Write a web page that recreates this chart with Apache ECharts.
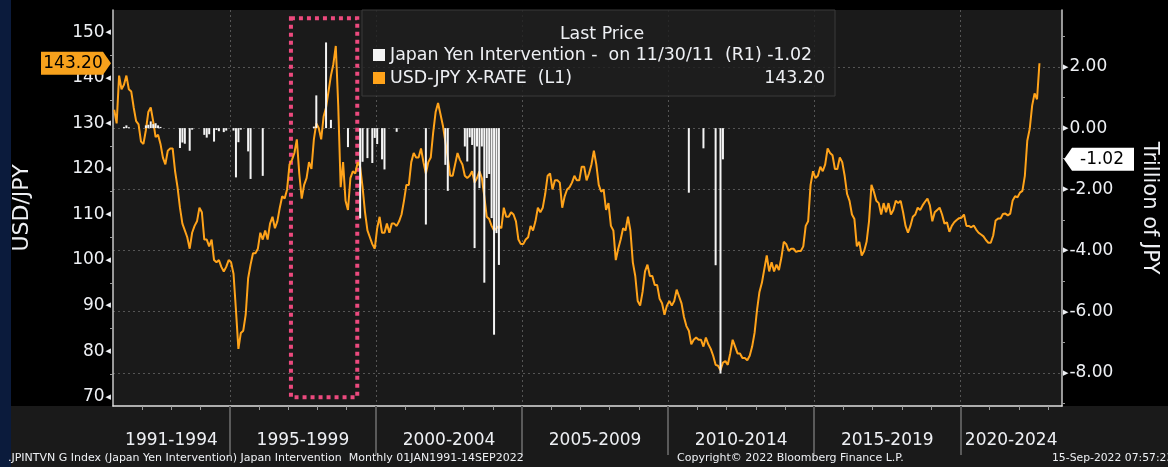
<!DOCTYPE html>
<html><head><meta charset="utf-8">
<script src="https://cdn.jsdelivr.net/npm/echarts@6/dist/echarts.min.js"></script>
<style>
html,body{margin:0;padding:0;background:#000;width:1168px;height:467px;overflow:hidden}
#navy{position:absolute;left:0;top:0;width:11px;height:467px;background:#0b1b3c}
#foot{position:absolute;left:11px;top:406px;width:1157px;height:61px;background:#1a1a1a}
#chart{position:absolute;left:0;top:0;width:1168px;height:467px}
</style></head><body>
<div id="navy"></div><div id="foot"></div><div id="chart"></div>
<script>
// ---------------- data ----------------
const usdJpyStart = [1991, 1];            // first month of the monthly series
const usdJpyMonthly = [
  133.0,130.0,140.5,137.5,138.5,140.5,137.5,137.0,133.5,130.5,129.8,126.0, // 1991
  125.5,128.5,132.5,133.5,130.5,127.0,127.5,125.5,122.5,121.0,124.0,124.5, // 1992
  124.5,119.5,116.0,111.5,108.0,106.5,105.0,102.5,106.0,107.5,108.5,111.5, // 1993
  110.5,104.5,104.5,103.0,104.5,100.0, 99.5,100.0, 98.5, 97.5, 98.5,100.0, // 1994
   99.5, 97.0, 89.0, 80.5, 84.0, 84.5, 88.0, 96.0, 99.0,101.5,101.5,102.5, // 1995
  106.0,104.5,106.5,104.5,108.0,109.5,107.0,108.5,111.5,114.0,113.5,115.5, // 1996
  121.0,122.0,123.5,126.5,119.0,113.5,116.5,118.0,121.5,120.0,126.5,130.0, // 1997
  129.0,126.5,131.5,133.5,137.0,140.5,143.0,147.0,134.0,116.0,121.5,113.0, // 1998
  111.0,118.0,119.5,119.0,121.5,120.5,116.0,110.5,106.5,105.0,103.5,102.5, // 1999
  107.0,109.5,106.0,106.0,108.0,106.0,108.0,108.0,107.5,108.5,110.0,113.0, // 2000
  116.5,116.5,121.5,123.5,122.5,122.5,124.5,121.5,119.0,121.5,122.5,128.0, // 2001
  132.5,134.5,132.0,129.5,126.0,122.5,118.5,118.5,121.0,123.5,122.0,121.0, // 2002
  118.5,118.0,118.5,119.5,117.0,118.0,119.5,118.0,114.0,109.5,109.0,107.5, // 2003
  106.5,107.0,107.5,107.0,111.5,109.5,109.5,110.5,110.0,108.5,104.5,103.5, // 2004
  103.5,104.5,105.0,107.5,106.5,108.5,111.5,110.5,111.5,114.5,118.5,119.0, // 2005
  115.5,117.5,117.5,117.0,111.5,114.0,115.5,116.0,117.0,118.5,117.5,117.5, // 2006
  120.5,120.5,117.5,119.0,121.0,124.0,121.0,116.5,115.0,115.5,111.0,112.5, // 2007
  107.5,106.5,100.0,102.5,104.5,107.0,106.5,109.5,106.5, 99.5, 96.5, 91.0, // 2008
   90.0, 93.0, 97.5, 99.0, 96.5, 96.5, 94.5, 94.5, 91.5, 90.5, 88.0, 90.0, // 2009
   91.0, 90.0, 91.0, 93.5, 92.0, 90.5, 87.5, 85.5, 84.5, 81.5, 82.5, 83.0, // 2010
   82.5, 82.5, 81.0, 83.0, 81.5, 80.5, 79.0, 77.0, 76.8, 75.8, 77.5, 77.8, // 2011
   77.0, 79.5, 82.5, 81.0, 79.5, 79.5, 78.5, 78.5, 78.0, 79.0, 81.0, 84.0, // 2012
   89.0, 93.0, 95.0, 98.0,101.0, 97.5, 99.5, 97.5, 99.0, 97.8,100.5,104.0, // 2013
  103.5,102.0,102.5,102.5,101.8,102.0,102.0,103.0,107.5,108.5,116.5,119.5, // 2014
  118.0,118.5,120.5,119.5,121.0,124.5,123.5,123.0,120.0,120.0,122.5,121.5, // 2015
  118.5,114.5,113.0,110.0,109.0,103.0,104.0,101.0,102.0,104.0,108.5,116.5, // 2016
  115.0,113.0,112.5,110.0,112.5,110.5,112.5,110.0,111.0,113.0,112.5,113.0, // 2017
  110.5,107.5,106.0,107.5,109.5,110.0,111.5,111.0,112.0,112.8,113.5,112.0, // 2018
  108.5,110.5,111.0,111.5,110.0,108.0,108.3,106.2,107.5,108.3,108.8,109.2, // 2019
  109.3,110.0,107.5,107.5,107.2,107.6,106.7,106.0,105.6,105.2,104.4,103.8, // 2020
  103.8,105.4,108.7,109.1,109.1,110.1,110.2,109.8,110.2,113.1,114.0,113.8, // 2021
  114.8,115.2,118.5,126.2,128.8,133.9,136.6,135.3,143.2                    // 2022
];
const interventionMonths = [
  '1991-05','1991-06','1991-07',
  '1992-02','1992-03','1992-04','1992-05','1992-06','1992-07','1992-08',
  '1993-04','1993-05','1993-06','1993-08','1993-09',
  '1994-02','1994-03','1994-04','1994-06','1994-07','1994-08','1994-10','1994-11',
  '1995-02','1995-03','1995-04','1995-05','1995-08','1995-09',
  '1996-02',
  '1997-11','1997-12','1998-04','1998-06',
  '1999-01','1999-06','1999-07','1999-09','1999-11','1999-12',
  '2000-01','2000-03','2000-04','2000-09',
  '2001-09','2002-05','2002-06',
  '2003-01','2003-02','2003-03','2003-04','2003-05','2003-06','2003-07','2003-08',
  '2003-09','2003-10','2003-11','2003-12','2004-01','2004-02','2004-03',
  '2010-09','2011-03','2011-08','2011-10','2011-11'
];
const interventionValues = [
  0.04, 0.09, 0.03,
  0.09, 0.11, 0.22, 0.13, 0.16, 0.09, 0.04,
  -0.65, -0.47, -0.51, -0.74, -0.05,
  -0.22, -0.31, -0.20, -0.44, -0.06, -0.10, -0.13, -0.08,
  -0.08, -1.61, -0.46, -0.05, -0.76, -1.66,
  -1.56,
  0.05, 1.07, 2.80, 0.27,
  -0.62, -2.95, -1.10, -0.98, -1.14, -0.32,
  -0.52, -1.02, -1.35, -0.12,
  -3.15, -1.20, -2.05,
  -0.60, -1.09, -0.30, -0.55, -3.92, -0.60, -1.96, -0.60,
  -5.05, -1.63, -1.50, -2.94, -6.75, -3.43, -4.47,
  -2.11, -0.66, -4.48, -8.02, -1.02
];
const periodLabels = ['1991-1994','1995-1999','2000-2004','2005-2009','2010-2014','2015-2019','2020-2024'];
const periodStarts = [1991, 1995, 2000, 2005, 2010, 2015, 2020];
const periodEnds   = [1995, 2000, 2005, 2010, 2015, 2020, 2025];
const usdTickLabels = [70, 80, 90, 100, 110, 120, 130, 140, 150];
const usdMinorTicks = [75, 85, 95, 105, 115, 125, 135, 145];
const jpyTickLabels = [-8, -6, -4, -2, 0, 2];
const jpyMinorTicks = [-9, -7, -5, -3, -1, 1, 3];
const seriesNames = ['Japan Yen Intervention', 'USD-JPY X-RATE'];
const legendTexts = ['Japan Yen Intervention -  on 11/30/11  (R1) -1.02', 'USD-JPY X-RATE  (L1)'];
const legendTitle = 'Last Price';
const axisNames = ['USD/JPY', 'Trillion of JPY'];
const footerTexts = ['.JPINTVN G Index (Japan Yen Intervention) Japan Intervention  Monthly 01JAN1991-14SEP2022',
                     'Copyright\u00A9 2022 Bloomberg Finance L.P.', '15-Sep-2022 07:57:23'];
const highlightBox = { from: 1997.09, to: 1999.36, top: 153.1, bottom: 69.9 };
const X_MIN = 1991, X_MAX = 2023.48;
const USD_MIN = 67.96, USD_MAX = 154.9;
const JPY_MIN = -9.08, JPY_MAX = 3.86;

// ---------------- build ----------------
const FONT = 'DejaVu Sans';
const TXT = '#eef0f4';
function monthPos(y, m) { return y + (m - 0.5) / 12; }
const usdData = usdJpyMonthly.map((v, i) => {
  const k = usdJpyStart[1] - 1 + i;
  return [monthPos(usdJpyStart[0] + Math.floor(k / 12), (k % 12) + 1), v];
});
const intData = interventionMonths.map((s, i) => {
  const p = s.split('-');
  return [monthPos(+p[0], +p[1]), interventionValues[i]];
});
const periodCenters = periodStarts.map((s, i) => (s + Math.min(periodEnds[i], X_MAX)) / 2);
const yearTicks = [];
for (let y = X_MIN + 1; y <= X_MAX; y++) yearTicks.push(y);
const lastUsd = usdJpyMonthly[usdJpyMonthly.length - 1];
const lastInt = interventionValues[interventionValues.length - 1];

const chart = echarts.init(document.getElementById('chart'), null, { renderer: 'canvas' });
chart.setOption({
  backgroundColor: 'transparent',
  animation: false,
  textStyle: { fontFamily: FONT },
  title: [
    { text: legendTitle, left: 597, top: 21, textAlign: 'center', z: 10,
      textStyle: { color: TXT, fontSize: 17.4, fontWeight: 'normal', fontFamily: FONT } },
    { text: footerTexts[0], left: 8, top: 453, padding: 0,
      textStyle: { color: TXT, fontSize: 11, fontWeight: 'normal', fontFamily: FONT } },
    { text: footerTexts[1], left: 677, top: 453, padding: 0,
      textStyle: { color: TXT, fontSize: 11, fontWeight: 'normal', fontFamily: FONT } },
    { text: footerTexts[2], left: 1052, top: 453, padding: 0,
      textStyle: { color: TXT, fontSize: 10.8, fontWeight: 'normal', fontFamily: FONT } }
  ],
  legend: {
    orient: 'vertical', left: 362, top: 10,
    padding: [35, 10, 8, 11], itemGap: 3, itemWidth: 12, itemHeight: 12,
    backgroundColor: 'rgba(30,30,30,0.82)', borderColor: '#3a3a3a', borderWidth: 1,
    data: [{ name: seriesNames[0], icon: 'rect' }, { name: seriesNames[1], icon: 'rect' }],
    selectedMode: false,
    textStyle: { color: TXT, fontSize: 17.4, fontFamily: FONT, lineHeight: 20,
      rich: { n: { width: 370, fontSize: 17.4, color: TXT, fontFamily: FONT },
              v: { width: 65, align: 'right', fontSize: 17.4, color: TXT, fontFamily: FONT } } },
    formatter: function (name) {
      if (name === seriesNames[0]) return legendTexts[0];
      return '{n|' + legendTexts[1] + '}{v|' + lastUsd.toFixed(2) + '}';
    }
  },
  grid: { left: 113, right: 95, top: 10, bottom: 61, show: true,
          backgroundColor: '#1a1a1a', borderWidth: 0 },
  xAxis: [
    { type: 'value', min: X_MIN, max: X_MAX, position: 'bottom',
      axisLine: { show: true, onZero: false, lineStyle: { color: '#e0e0e0', width: 1.5 } },
      axisTick: { show: true, customValues: yearTicks, length: 4, lineStyle: { color: '#9a9a9a' } },
      axisLabel: { show: true, customValues: periodCenters, margin: 26, color: TXT, fontSize: 17, fontFamily: FONT,
        formatter: function (v) {
          let best = 0;
          periodCenters.forEach((c, i) => { if (Math.abs(c - v) < Math.abs(periodCenters[best] - v)) best = i; });
          return periodLabels[best];
        } },
      splitLine: { show: false } },
    { type: 'value', min: X_MIN, max: X_MAX, position: 'bottom',
      axisLine: { show: false, onZero: false },
      axisTick: { show: true, customValues: periodStarts.slice(1), length: 49, lineStyle: { color: '#5a5a5a', width: 2 } },
      axisLabel: { show: false },
      splitLine: { show: true, lineStyle: { color: '#555', type: [2, 3], width: 1 } } }
  ],
  yAxis: [
    { type: 'value', min: USD_MIN, max: USD_MAX, position: 'left',
      name: axisNames[0], nameLocation: 'middle', nameGap: 80, nameRotate: 90,
      nameTextStyle: { color: TXT, fontSize: 22, fontFamily: FONT },
      axisLine: { show: true, onZero: false, lineStyle: { color: '#c8c8c8', width: 1.5 } },
      axisTick: { show: true, customValues: usdMinorTicks, length: 3, lineStyle: { color: '#9a9a9a' } },
      axisLabel: { show: true, customValues: usdTickLabels, margin: 2,
        formatter: v => '{a|' + v + '}{t|\u25C0}',
        rich: { a: { color: TXT, fontSize: 17, fontFamily: FONT },
                t: { color: TXT, fontSize: 7, fontFamily: FONT, padding: [0, 0, 0, 1] } } },
      splitLine: { show: false } },
    { type: 'value', min: JPY_MIN, max: JPY_MAX, position: 'right',
      name: axisNames[1], nameLocation: 'middle', nameGap: 77, nameRotate: -90,
      nameTextStyle: { color: TXT, fontSize: 21, fontFamily: FONT },
      axisLine: { show: true, onZero: false, lineStyle: { color: '#c8c8c8', width: 1.5 } },
      axisTick: { show: true, customValues: jpyTickLabels, length: 2, lineStyle: { color: '#9a9a9a' } },
      axisLabel: { show: true, customValues: jpyTickLabels, margin: 1,
        formatter: v => '{t|\u25B6}{a|' + v.toFixed(2) + '}',
        rich: { a: { color: TXT, fontSize: 17, fontFamily: FONT },
                t: { color: TXT, fontSize: 7, fontFamily: FONT, padding: [0, 1, 0, 0] } } },
      splitLine: { show: true, lineStyle: { color: '#555', type: [2, 3], width: 1 } } },
    { type: 'value', min: JPY_MIN, max: JPY_MAX, position: 'right',
      axisLine: { show: false, onZero: false },
      axisTick: { show: true, customValues: jpyMinorTicks, length: 3, lineStyle: { color: '#9a9a9a' } },
      axisLabel: { show: false }, splitLine: { show: false } }
  ],
  series: [
    { name: seriesNames[1], type: 'line', xAxisIndex: 0, yAxisIndex: 0,
      data: usdData, showSymbol: false, symbol: 'none', sampling: null, clip: false,
      color: '#ffa31a', lineStyle: { color: '#ffa31a', width: 2 }, z: 2,
      markArea: { silent: true, label: { show: false },
        itemStyle: { color: 'rgba(0,0,0,0)', borderColor: '#ec4a7e', borderWidth: 4, borderType: [4, 4] },
        data: [[{ coord: [highlightBox.from, highlightBox.top] }, { coord: [highlightBox.to, highlightBox.bottom] }]] },
      markPoint: { silent: true, symbol: 'path://M0,0H62L70,11.5L62,23H0Z', symbolSize: [70, 23],
        symbolKeepAspect: false, symbolOffset: [-37, 0],
        itemStyle: { color: '#f7a11c' },
        label: { show: true, position: 'inside', color: '#000', fontSize: 17, fontFamily: FONT,
                 offset: [-3, 0], formatter: () => lastUsd.toFixed(2) },
        data: [{ coord: [X_MIN, lastUsd] }] } },
    { name: seriesNames[0], type: 'bar', xAxisIndex: 0, yAxisIndex: 1,
      data: intData, barWidth: 2, clip: false, z: 3,
      color: '#f4f4f4', itemStyle: { color: '#f4f4f4' },
      markPoint: { silent: true, symbol: 'path://M8,0H70V23H8L0,11.5Z', symbolSize: [70, 23],
        symbolKeepAspect: false, symbolOffset: [37, 0],
        itemStyle: { color: '#ffffff' },
        label: { show: true, position: 'inside', color: '#000', fontSize: 17, fontFamily: FONT,
                 offset: [3, 0], formatter: () => lastInt.toFixed(2) },
        data: [{ coord: [X_MAX, lastInt] }] } }
  ]
});
</script>
</body></html>
